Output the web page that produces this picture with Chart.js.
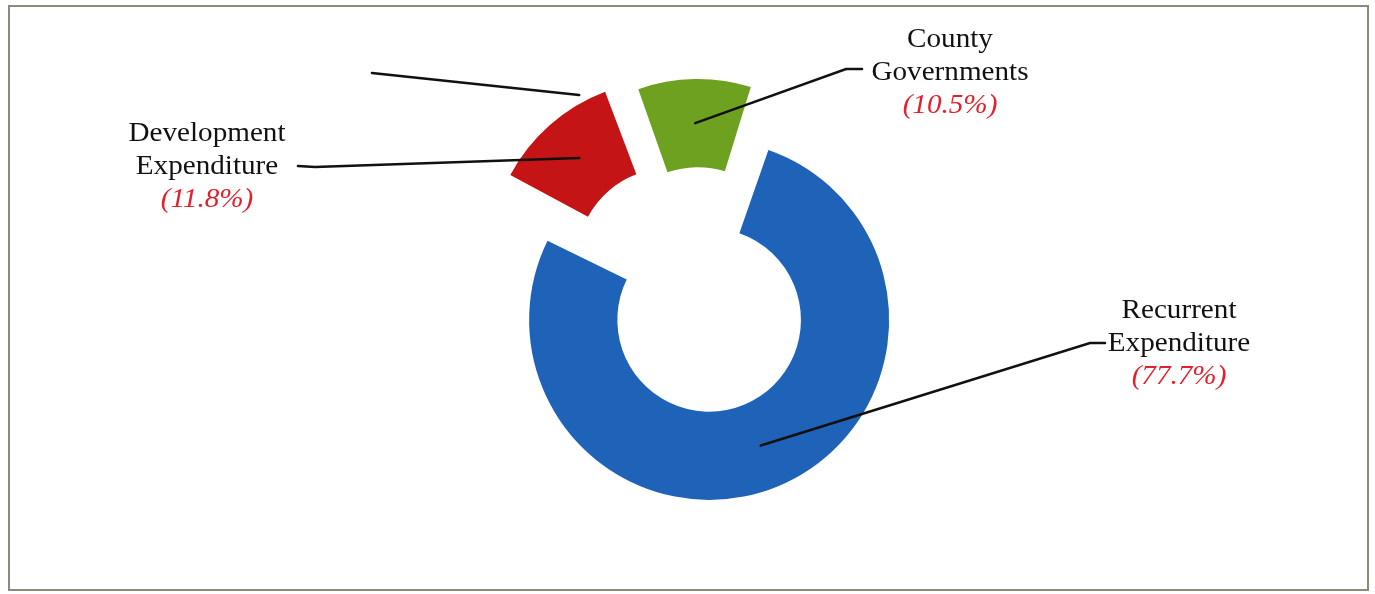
<!DOCTYPE html>
<html>
<head>
<meta charset="utf-8">
<title>Expenditure shares</title>
<script src="https://cdn.jsdelivr.net/npm/chart.js@4.4.1/dist/chart.umd.min.js"></script>
<style>
  html, body { margin: 0; padding: 0; background: #fff; }
  #wrap { width: 1375px; height: 594px; }
</style>
</head>
<body>
<div id="wrap"><canvas id="chart" width="1375" height="594"></canvas></div>
<script>
// slices, clockwise from the top
const categories = ['County Governments', 'Recurrent Expenditure', 'Development Expenditure'];
const shares = [10.5, 77.7, 11.8];
const labelLines = [
  ['County', 'Governments'],
  ['Recurrent', 'Expenditure'],
  ['Development', 'Expenditure']
];

// where each callout sits: text centre, first baseline, and the hook the leader starts from
const callouts = [
  { x: 950, y: 47, hook: [[862, 69], [846, 69]] },
  { x: 1179, y: 318, hook: [[1105, 343], [1090, 343]] },
  { x: 207, y: 141, hook: [[298, 166], [315, 167]] }
];
const LINE_GAP = 33;
const OFFSET_DIV = 4; // ArcElement translates by offset / 4

// ArcElement also grows both radii when it is offset; this is how much
function radiusGrow(arc) {
  const shift = (arc.options.offset || 0) / OFFSET_DIV;
  return shift * (1 - Math.sin(Math.min(Math.PI, arc.circumference || 0)));
}

function arcPoint(arc, frac, radius) {
  const a = arc.startAngle + (arc.endAngle - arc.startAngle) * frac;
  const mid = (arc.startAngle + arc.endAngle) / 2;
  const shift = (arc.options.offset || 0) / OFFSET_DIV;
  return {
    x: arc.x + Math.cos(mid) * shift + Math.cos(a) * radius,
    y: arc.y + Math.sin(mid) * shift + Math.sin(a) * radius
  };
}

const calloutPlugin = {
  id: 'callouts',
  afterUpdate(chart) {
    // keep every exploded slice on the same ring
    chart.getDatasetMeta(0).data.forEach(arc => {
      const g = radiusGrow(arc);
      arc.outerRadius -= g;
      arc.innerRadius -= g;
    });
  },
  beforeDraw(chart) {
    const ctx = chart.ctx;
    ctx.save();
    ctx.strokeStyle = '#8b8b7b';
    ctx.lineWidth = 2;
    ctx.strokeRect(9, 6, 1359, 584);
    ctx.restore();
  },
  afterDraw(chart) {
    const ctx = chart.ctx;
    const arcs = chart.getDatasetMeta(0).data;
    ctx.save();
    ctx.strokeStyle = '#111';
    ctx.lineWidth = 2.6;
    ctx.lineCap = 'round';

    arcs.forEach((arc, i) => {
      const c = callouts[i];
      const g = radiusGrow(arc);
      const end = arcPoint(arc, 0.5, (arc.innerRadius + arc.outerRadius) / 2 + g);
      ctx.beginPath();
      ctx.moveTo(c.hook[0][0], c.hook[0][1]);
      ctx.lineTo(c.hook[1][0], c.hook[1][1]);
      ctx.lineTo(end.x, end.y);
      ctx.stroke();

      ctx.textAlign = 'center';
      ctx.textBaseline = 'alphabetic';
      const lines = labelLines[i];
      lines.forEach((t, k) => {
        ctx.save();
        ctx.translate(c.x, c.y + k * LINE_GAP);
        ctx.scale(1.08, 1);
        ctx.fillStyle = '#111';
        ctx.font = '27px "Liberation Serif", "Times New Roman", serif';
        ctx.fillText(t, 0, 0);
        ctx.restore();
      });
      ctx.save();
      ctx.translate(c.x, c.y + lines.length * LINE_GAP);
      ctx.scale(1.08, 1);
      ctx.fillStyle = '#e3202b';
      ctx.font = 'italic 27px "Liberation Serif", "Times New Roman", serif';
      ctx.fillText('(' + shares[i].toFixed(1) + '%)', 0, 0);
      ctx.restore();
    });

    // loose leader near the top of the development slice
    const dev = arcs[2];
    const tip = arcPoint(dev, 0.8, dev.outerRadius + radiusGrow(dev) + 8);
    ctx.beginPath();
    ctx.moveTo(372, 73);
    ctx.lineTo(tip.x, tip.y);
    ctx.stroke();
    ctx.restore();
  }
};

new Chart(document.getElementById('chart'), {
  type: 'doughnut',
  data: {
    labels: categories,
    datasets: [{
      data: shares,
      backgroundColor: ['#6ea11f', '#1f63b8', '#c51416'],
      borderWidth: 0,
      offset: [140, 112, 180],
      hoverOffset: 0
    }]
  },
  options: {
    responsive: false,
    animation: false,
    rotation: -20,
    radius: 180,
    cutout: '51%',
    layout: { padding: { top: 0, bottom: 6, left: 22, right: 0 } },
    events: [],
    plugins: {
      legend: { display: false },
      tooltip: { enabled: false }
    }
  },
  plugins: [calloutPlugin]
});
</script>
</body>
</html>
